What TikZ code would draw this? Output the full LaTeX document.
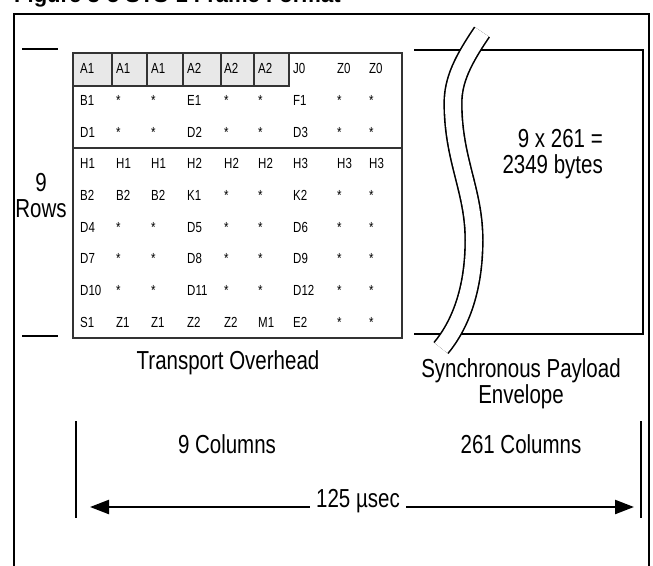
\documentclass[tikz,border=0pt]{standalone}
\usepackage{fontspec}
\setmainfont{Liberation Sans}
\usetikzlibrary{positioning, arrows.meta}

\begin{document}
\begin{tikzpicture}[x=1pt, y=-1pt,
    heavy/.style={line width=2.3pt},
    grid/.style={line width=1.2pt, draw=black!80},
    shade/.style={grid, fill=black!9},
    cell/.style={anchor=west, inner sep=0pt, font=\fontsize{11.5}{11.5}\selectfont, yscale=1.27},
    bigtext/.style={inner sep=0pt, align=center, font=\fontsize{20.5}{20.5}\selectfont, yscale=1.27},
    wave/.style={line width=1.6pt, double=white, double distance=16pt},
    timeline/.style={heavy, -{Triangle[length=19pt, width=14pt]}}]
  \useasboundingbox (0,0) rectangle (653,565);
  \clip (0,0) rectangle (653,565);
  \node[anchor=base west, inner sep=0pt, font=\fontsize{22}{22}\bfseries] (title) at (14,2) {Figure 3-5 STS-1 Frame Format};
  \draw[heavy] (14,580) -- (14,14) -- (649,14) -- (649,580);
  \draw[heavy] (22,49) -- (58,49);
  \draw[heavy] (22,336) -- (58,336);
  \node[bigtext] (rows) at (41,196) {9\\Rows};

  \draw[grid] (73,53) rectangle (402,338);
  \foreach \a/\b in {73/112, 112/147, 147/183, 183/221, 221/254, 254/289}
    \draw[shade] (\a,53) rectangle (\b,86);
  \draw[grid] (73,148) -- (402,148);
  \def\colx{{80,116,151,187,224,258,293,337,369}}
  \foreach \line [count=\r] in {
      {A1,A1,A1,A2,A2,A2,J0,Z0,Z0},
      {B1,*,*,E1,*,*,F1,*,*},
      {D1,*,*,D2,*,*,D3,*,*},
      {H1,H1,H1,H2,H2,H2,H3,H3,H3},
      {B2,B2,B2,K1,*,*,K2,*,*},
      {D4,*,*,D5,*,*,D6,*,*},
      {D7,*,*,D8,*,*,D9,*,*},
      {D10,*,*,D11,*,*,D12,*,*},
      {S1,Z1,Z1,Z2,Z2,M1,E2,*,*}}
    \foreach \txt [count=\c] in \line {
      \pgfmathsetmacro\xx{\colx[\c-1]}
      \node[cell] (t-\r-\c) at (\xx, {68.8+(\r-1)*31.67}) {\txt};
    }

  \draw[heavy] (414,50) -- (643,50) -- (643,334) -- (414,334);
  \draw[wave] (482,32) .. controls (463,60) and (453,80) .. (453,103)
    .. controls (453,160) and (474,190) .. (474,240)
    .. controls (474,290) and (460,325) .. (441,348);
  \node[bigtext, align=right, anchor=east] (bytes) at (603,154) {9 x 261 =\\2349 bytes};

  \node[bigtext] (toh) at (228,363) {Transport Overhead};
  \node[bigtext] (spe) at (521,384) {Synchronous Payload\\Envelope};

  \draw[heavy] (76,421) -- (76,518);
  \draw[heavy] (641,421) -- (641,518);
  \node[bigtext] (cols9) at (227,444) {9 Columns};
  \node[bigtext] (cols261) at (521,444) {261 Columns};
  \node[bigtext, inner xsep=6pt] (usec) at (358,501) {125 µsec};
  \coordinate (tl) at (90,507);
  \coordinate (tr) at (634,507);
  \draw[timeline] (usec.west |- tl) -- (tl);
  \draw[timeline] (usec.east |- tr) -- (tr);
\end{tikzpicture}
\end{document}
